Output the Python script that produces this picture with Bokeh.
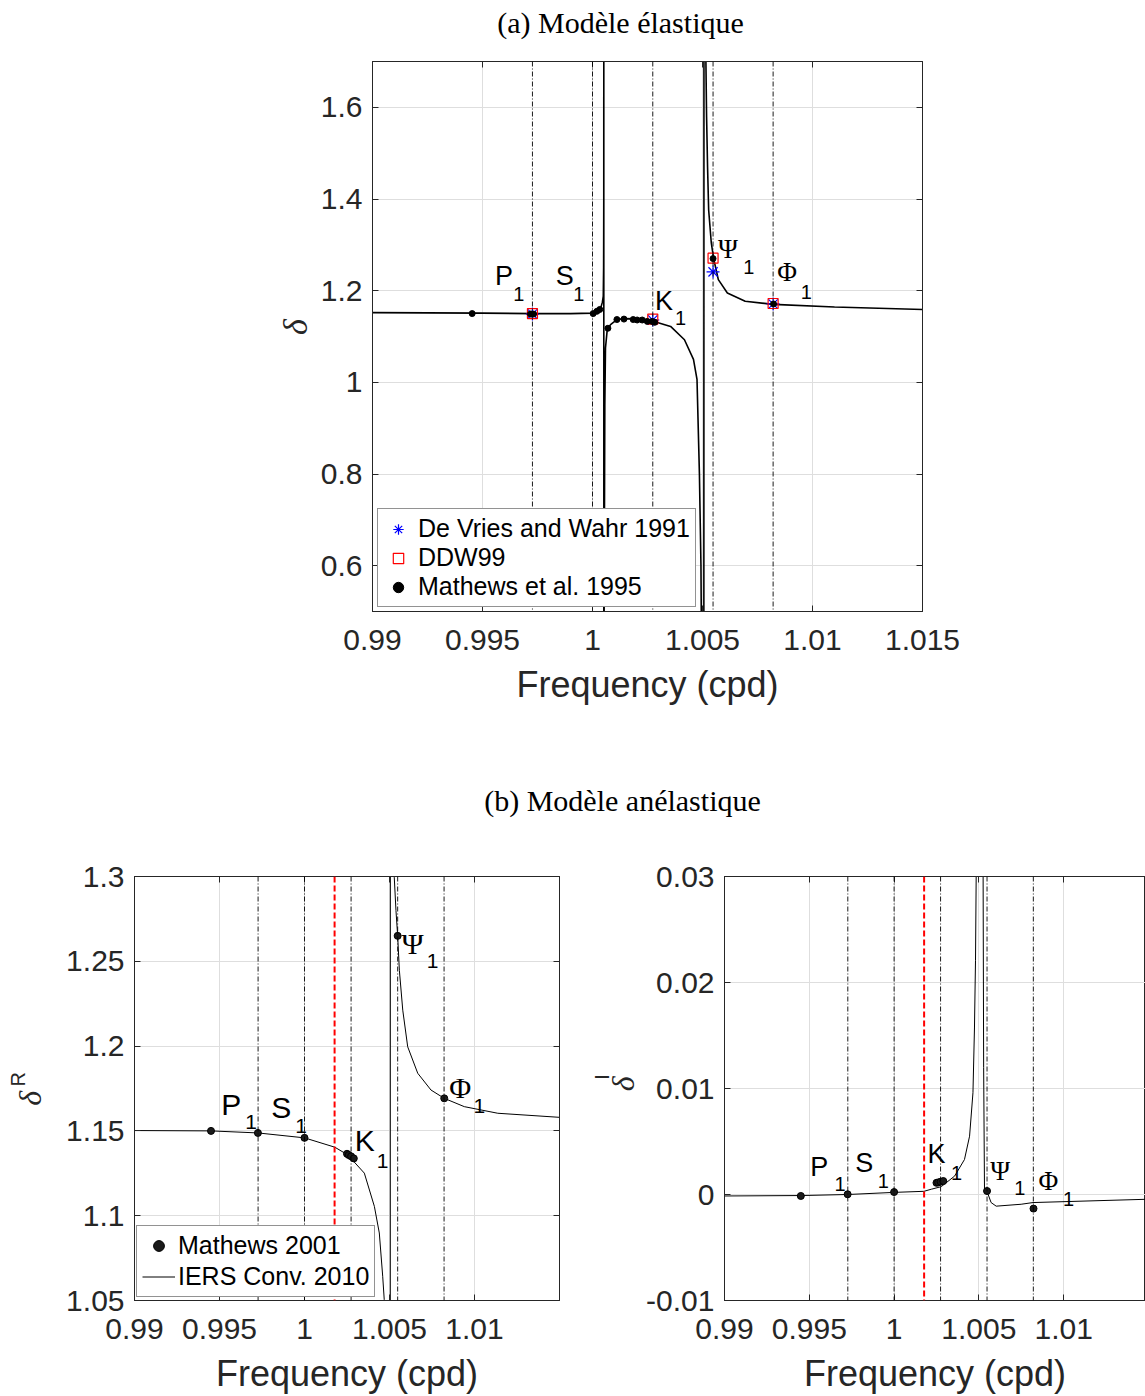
import math
from bokeh.plotting import figure
from bokeh.models import (Range1d, FixedTicker, CustomJSTickFormatter, Span, Label,
                          Legend, LegendItem, LinearAxis)
from bokeh.layouts import column, row
from bokeh.embed import file_html
from bokeh.resources import INLINE
from bokeh.core.properties import value

# ---------------------------------------------------------------- data
tide_names = ["P", "S", "K", "Ψ", "Φ"]
tide_freq = [0.99727, 1.00000, 1.00274, 1.00548, 1.00821]
red_line_freq = 1.00177

# (a) elastic model - resonance curve
freq_el = [0.9900, 0.9950, 0.9973, 0.9990, 1.0000, 1.00020, 1.00036, 1.00045, 1.00049,
           1.000505, 1.000512, 1.000514, 1.000516, 1.00053, 1.00056, 1.00059, 1.00067,
           1.00082, 1.00111, 1.00143, 1.00203, 1.00276, 1.00355, 1.00418, 1.00459,
           1.00475, 1.00486, 1.00493, 1.00497, 1.00505, 1.00507, 1.005155, 1.005186,
           1.00523, 1.00528, 1.0054, 1.00551, 1.00572, 1.00613, 1.00694, 1.00823,
           1.0110, 1.0150]
delta_el = [1.152, 1.151, 1.150, 1.150, 1.151, 1.154, 1.160, 1.175, 1.188,
            1.25, 1.40, 3.0, -3.0, 0.5, 0.95, 1.075, 1.115,
            1.126, 1.137, 1.139, 1.1385, 1.1333, 1.122, 1.093, 1.05,
            1.0065, 0.8, 0.6, 0.3, -3.0, 3.0, 1.70, 1.579,
            1.470, 1.376, 1.304, 1.269, 1.224, 1.195, 1.177, 1.170,
            1.1645, 1.159]

freq_dvw = [0.99727, 1.00274, 1.00548, 1.00821]
delta_dvw = [1.149, 1.136, 1.241, 1.171]
freq_ddw = [0.99727, 1.00274, 1.00548, 1.00821]
delta_ddw = [1.150, 1.138, 1.271, 1.172]
freq_m95 = [0.99453, 0.99718, 0.99725, 0.99732, 1.00003, 1.00020, 1.00033, 1.00070,
            1.00111, 1.00143, 1.00185, 1.00203, 1.00226, 1.00249, 1.00271, 1.00283,
            1.00548, 1.00823]
delta_m95 = [1.150, 1.149, 1.149, 1.149, 1.150, 1.155, 1.159, 1.118,
             1.137, 1.138, 1.137, 1.136, 1.136, 1.133, 1.133, 1.131,
             1.270, 1.171]

# (b) anelastic model - IERS Conventions 2010 curves
freq_r = [0.9900, 0.9945, 0.99726, 1.0000, 1.00178, 1.00254, 1.00352, 1.00411, 1.0044,
          1.0046, 1.00469, 1.00480, 1.00504, 1.00506, 1.00527, 1.00528, 1.00538,
          1.00548, 1.00558, 1.00578, 1.00607, 1.00666, 1.00744, 1.00822, 1.0094,
          1.01137, 1.0150]
delta_r = [1.1502, 1.1500, 1.1488, 1.1459, 1.1404, 1.1359, 1.1251, 1.1055, 1.0898,
           1.0643, 1.0506, 1.0, 0.5, 2.0, 1.32, 1.2996, 1.280,
           1.265, 1.2447, 1.2212, 1.1996, 1.184, 1.1741, 1.1692, 1.1643,
           1.1604, 1.158]
freq_i = [0.9900, 0.9945, 0.99726, 1.0000, 1.00176, 1.0022, 1.00278, 1.00357, 1.00415,
          1.00445, 1.00465, 1.00474, 1.0048, 1.00484, 1.00488, 1.00520, 1.00524,
          1.00528, 1.00533, 1.00547, 1.00572, 1.00602, 1.00749, 1.00819, 1.0149]
delta_i = [-0.00014, -0.0001, 0.0000, 0.0002, 0.0003, 0.0005, 0.00074, 0.00174, 0.0033,
           0.0055, 0.0096, 0.0158, 0.0221, 0.030, 0.08, 0.08, 0.035,
           0.012, 0.0005, 0.00033, -0.00076, -0.0011, -0.00092, -0.00076, -0.00045]

# Mathews 2001 values
freq_m01 = [0.9945, 0.99726, 1.0000, 1.0025, 1.0026, 1.00274, 1.0029, 1.00548, 1.00822]
delta_r_m01 = [1.1500, 1.1488, 1.1459, 1.1365, 1.1358, 1.1350, 1.1338, 1.265, 1.1692]
delta_i_m01 = [-0.00014, 0.00002, 0.00023, 0.00110, 0.00114, 0.00120, 0.00127, 0.00033, -0.00133]

# tick values
x_ticks_a = [0.99, 0.995, 1.0, 1.005, 1.01, 1.015]
y_ticks_a = [0.6, 0.8, 1.0, 1.2, 1.4, 1.6]
x_ticks_b = [0.99, 0.995, 1.0, 1.005, 1.01]
y_ticks_r = [1.05, 1.1, 1.15, 1.2, 1.25, 1.3]
y_ticks_i = [-0.01, 0.0, 0.01, 0.02, 0.03]

# tide-label anchors (left edge / middle of the letters) for each panel
lab_a_x = [0.99557, 0.99833, 1.00284, 1.00570, 1.00840]
lab_a_y = [1.2324, 1.2324, 1.1779, 1.2911, 1.2418]
sub_a_x = [0.99640, 0.99912, 1.00375, 1.00685, 1.00947]
sub_a_y = [1.1927, 1.1927, 1.1397, 1.2525, 1.1979]

lab_r_x = [0.99511, 0.99804, 1.00295, 1.00571, 1.00852]
lab_r_y = [1.1657, 1.1638, 1.1441, 1.2607, 1.1756]
sub_r_x = [0.99651, 0.99945, 1.00425, 1.00719, 1.00994]
sub_r_y = [1.1550, 1.1526, 1.1325, 1.2501, 1.1648]

lab_i_x = [0.99505, 0.99771, 1.00197, 1.00567, 1.00851]
lab_i_y = [0.00261, 0.00293, 0.00381, 0.00223, 0.00128]
sub_i_x = [0.99649, 0.99904, 1.00335, 1.00708, 1.00996]
sub_i_y = [0.00096, 0.00128, 0.00207, 0.00065, -0.00045]

# ---------------------------------------------------------------- style
FRAME = "#262626"
GRID = "#dedede"
SANS = "Liberation Sans"
SERIF = "Liberation Serif"
FMT = r"""
let s = tick.toFixed(3);
s = s.replace(/0+$/, '').replace(/\.$/, '');
if (s === '-0') { s = '0'; }
return s;
"""


def base_fig(width, height, xr, yr, xticks, yticks, borders, right_axis=True):
    left, right, top, bottom = borders
    p = figure(width=width, height=height, x_range=Range1d(*xr), y_range=Range1d(*yr),
               output_backend="svg", toolbar_location=None, tools="",
               min_border_left=left, min_border_right=right,
               min_border_top=top, min_border_bottom=bottom)
    p.background_fill_color = "white"
    p.border_fill_color = "white"
    p.outline_line_color = FRAME
    p.outline_line_width = 1
    xt = FixedTicker(ticks=xticks)
    yt = FixedTicker(ticks=yticks)
    p.xaxis.ticker = xt
    p.yaxis.ticker = yt
    p.xgrid.ticker = xt
    p.ygrid.ticker = yt
    for ax in (p.xaxis[0], p.yaxis[0]):
        ax.formatter = CustomJSTickFormatter(code=FMT)
        ax.major_label_text_font = SANS
        ax.major_label_text_font_size = "30px"
        ax.major_label_text_color = FRAME
        ax.major_tick_in = 6
        ax.major_tick_out = 0
        ax.minor_tick_in = 0
        ax.minor_tick_out = 0
        ax.major_tick_line_color = FRAME
        ax.axis_line_color = FRAME
    p.xaxis.major_label_standoff = 18
    p.yaxis.major_label_standoff = 10
    p.xaxis.axis_label = "Frequency (cpd)"
    p.xaxis.axis_label_text_font = SANS
    p.xaxis.axis_label_text_font_size = "36px"
    p.xaxis.axis_label_text_font_style = "normal"
    p.xaxis.axis_label_text_color = FRAME
    p.xaxis.axis_label_standoff = 11
    p.grid.grid_line_color = GRID
    p.grid.grid_line_width = 1
    sides = [("above", xticks)]
    if right_axis:
        sides.append(("right", yticks))
    for side, ticks in sides:
        ax = LinearAxis(ticker=FixedTicker(ticks=ticks),
                        formatter=CustomJSTickFormatter(code="return '';"),
                        major_label_text_font_size="1px", major_label_standoff=0,
                        major_tick_in=6, major_tick_out=0, minor_tick_in=0, minor_tick_out=0,
                        major_tick_line_color=FRAME, axis_line_color=FRAME)
        p.add_layout(ax, side)
    return p


def blank_fig(width, height):
    f = figure(width=width, height=height, x_range=Range1d(0, width), y_range=Range1d(0, height),
               output_backend="svg", toolbar_location=None, tools="", min_border=0,
               x_axis_location=None, y_axis_location=None)
    f.outline_line_color = None
    f.background_fill_color = "white"
    f.border_fill_color = "white"
    f.xgrid.visible = False
    f.ygrid.visible = False
    return f


def title_fig(width, height, x, y_top, text):
    f = blank_fig(width, height)
    f.add_layout(Label(x=x, y=height - y_top, x_units="screen", y_units="screen",
                       text=text, text_font=SERIF, text_font_size="30px",
                       text_align="center", text_baseline="middle", text_color="black"))
    return f


def ylabel_fig(width, height, items):
    """Rotated y-axis label pieces drawn as text glyphs at pixel positions."""
    f = blank_fig(width, height)
    for (x, y_top, text, font, size, style) in items:
        f.text(x=[x], y=[height - y_top], text=[text], angle=math.pi / 2,
               text_font=value(font), text_font_size=size, text_font_style=style,
               text_align="center", text_baseline="middle", text_color=FRAME)
    return f


def tide_lines(p, red=False):
    for f in tide_freq:
        p.add_layout(Span(location=f, dimension="height", line_color="black",
                          line_width=0.9, line_dash="5 2 1 2"))
    if red:
        p.add_layout(Span(location=red_line_freq, dimension="height", line_color="#ff0000",
                          line_width=2, line_dash="6 3"))


def tide_labels(p, lx, ly, sx, sy, fs_main, fs_sub):
    common = dict(text_align="left", text_baseline="middle", text_color="black")
    p.text(x=lx[:3], y=ly[:3], text=tide_names[:3], text_font=value(SANS),
           text_font_size=f"{fs_main}px", **common)
    p.text(x=lx[3:], y=ly[3:], text=tide_names[3:], text_font=value(SERIF),
           text_font_size=f"{fs_main}px", **common)
    p.text(x=sx, y=sy, text=["1"] * len(sx), text_font=value(SANS),
           text_font_size=f"{fs_sub}px", **common)


# ---------------------------------------------------------------- (a)
pa = base_fig(830, 675, (0.99, 1.015), (0.5, 1.7), x_ticks_a, y_ticks_a, (57, 223, 16, 109))
tide_lines(pa)
pa.line(freq_el, delta_el, line_color="black", line_width=1.6)
r_dvw = pa.scatter(freq_dvw, delta_dvw, marker="asterisk", size=13, line_color="#0000ff",
                   line_width=1.2)
r_ddw = pa.scatter(freq_ddw, delta_ddw, marker="square", size=10, fill_color=None,
                   line_color="#ff0000", line_width=1.2)
r_m95 = pa.scatter(freq_m95, delta_m95, marker="circle", size=6, fill_color="black",
                   line_color="black")
tide_labels(pa, lab_a_x, lab_a_y, sub_a_x, sub_a_y, 27, 20)
leg_a = Legend(items=[LegendItem(label="De Vries and Wahr 1991", renderers=[r_dvw]),
                      LegendItem(label="DDW99", renderers=[r_ddw]),
                      LegendItem(label="Mathews et al. 1995", renderers=[r_m95])],
               location=(5, 4), orientation="vertical", margin=0,
               label_text_font=SANS, label_text_font_size="25px", label_text_color="black",
               label_height=26, glyph_height=26, glyph_width=30, label_standoff=5,
               padding=5, spacing=0, border_line_color=FRAME, border_line_width=1,
               background_fill_color="white", background_fill_alpha=1.0)
pa.add_layout(leg_a, "center")

title_a = title_fig(1145, 45, 620, 22, "(a) Modèle élastique")
ylab_a = ylabel_fig(315, 675, [(295, 326, "δ", SERIF, "34px", "italic")])
title_b = title_fig(1145, 120, 622, 80, "(b) Modèle anélastique")

# ---------------------------------------------------------------- (b) real part
pr = base_fig(525, 556, (0.99, 1.015), (1.05, 1.3), x_ticks_b, y_ticks_r, (74, 26, 36, 95))
tide_lines(pr, red=True)
r_iers = pr.line(freq_r, delta_r, line_color="black", line_width=1.0)
r_m01 = pr.scatter(freq_m01, delta_r_m01, marker="circle", size=7, fill_color="#1a1a1a",
                   line_color="black")
tide_labels(pr, lab_r_x, lab_r_y, sub_r_x, sub_r_y, 30, 21)
leg_b = Legend(items=[LegendItem(label="Mathews 2001", renderers=[r_m01]),
                      LegendItem(label="IERS Conv. 2010", renderers=[r_iers])],
               location=(2, 3), orientation="vertical", margin=0,
               label_text_font=SANS, label_text_font_size="25px", label_text_color="black",
               label_height=27, glyph_height=27, glyph_width=33, label_standoff=3,
               padding=5, spacing=2, border_line_color=FRAME, border_line_width=1,
               background_fill_color="white", background_fill_alpha=1.0)
pr.add_layout(leg_b, "center")
ylab_r = ylabel_fig(60, 556, [(29, 291, "δ", SERIF, "32px", "italic"),
                              (17, 266, "R", SANS, "20px", "normal")])

# ---------------------------------------------------------------- (b) imaginary part
pi_ = base_fig(502, 556, (0.99, 0.99 + 422 / 17000), (-0.01, 0.03), x_ticks_b, y_ticks_i,
               (80, 0, 36, 95), right_axis=False)
tide_lines(pi_, red=True)
pi_.line(freq_i, delta_i, line_color="black", line_width=1.0)
pi_.scatter(freq_m01, delta_i_m01, marker="circle", size=7, fill_color="#1a1a1a",
            line_color="black")
tide_labels(pi_, lab_i_x, lab_i_y, sub_i_x, sub_i_y, 27, 20)
ylab_i = ylabel_fig(58, 556, [(37, 272, "δ", SERIF, "32px", "italic"),
                              (16, 263, "I", SANS, "20px", "normal")])

layout = column(title_a, row(ylab_a, pa), title_b, row(ylab_r, pr, ylab_i, pi_))
open("out.html", "w").write(file_html(layout, INLINE, "Modèle élastique / anélastique"))
